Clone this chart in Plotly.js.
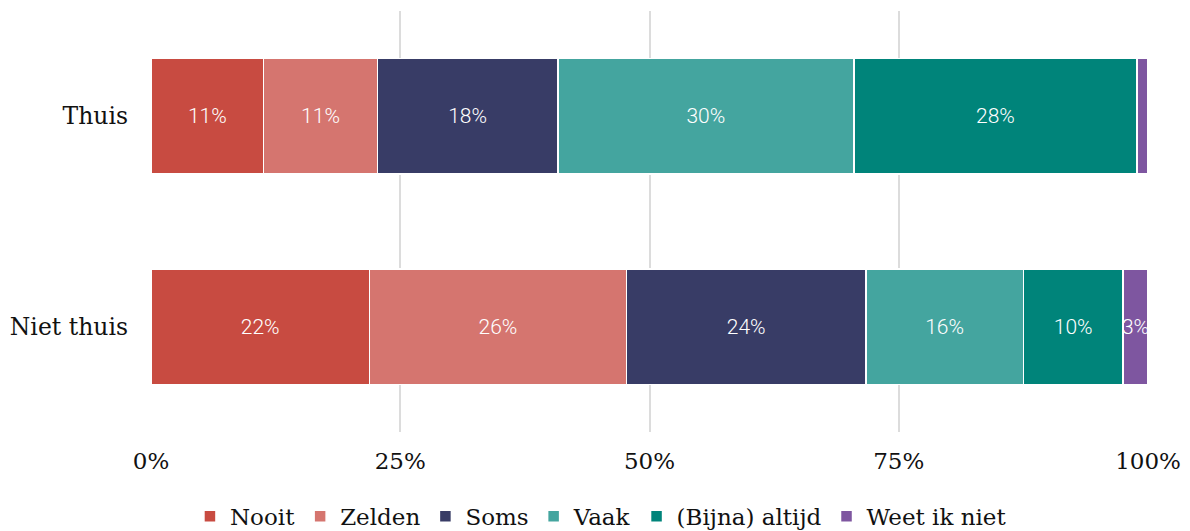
<!DOCTYPE html>
<html><head><meta charset="utf-8">
<script src="https://cdn.plot.ly/plotly-3.0.1.min.js"></script>
<style>html,body{margin:0;padding:0;background:#fff}#chart{width:1190px;height:531px}</style>
</head><body><div id="chart"></div>
<script>
const categories = ["Thuis", "Niet thuis"];
const seriesNames = ["Nooit", "Zelden", "Soms", "Vaak", "(Bijna) altijd", "Weet ik niet"];
const nooit = [11.3, 21.9];
const zelden = [11.4, 25.8];
const soms = [18.1, 24.0];
const vaak = [29.7, 15.8];
const altijd = [28.4, 10.0];
const weetIkNiet = [1.1, 2.5];
const tickVals = [0, 25, 50, 75, 100];
const tickLabels = ["0%", "25%", "50%", "75%", "100%"];
const colors = ["#c84b41", "#d5756f", "#383c66", "#44a59f", "#00847a", "#7e56a0"];

const series = [nooit, zelden, soms, vaak, altijd, weetIkNiet];
const traces = series.map((vals, i) => ({
  type: "bar",
  orientation: "h",
  name: seriesNames[i],
  y: categories,
  x: vals,
  text: vals.map(v => v >= 2 ? Math.round(v) + "%" : ""),
  textposition: "inside",
  insidetextanchor: "middle",
  constraintext: "none",
  textangle: 0,
  textfont: {family: "Roboto", size: 21, color: "#ffffff", weight: 300},
  hoverinfo: "none",
  marker: {color: colors[i], line: {color: "#ffffff", width: 1.5}}
}));

const layout = {
  width: 1190, height: 531,
  margin: {l: 151, r: 42, t: 11, b: 99, autoexpand: false},
  barmode: "stack",
  bargap: 0.45,
  paper_bgcolor: "#fff", plot_bgcolor: "#fff",
  showlegend: true,
  legend: {orientation: "h", xref: "container", x: 0.505, xanchor: "center", y: -0.2, yanchor: "middle",
    font: {family: "DejaVu Serif", size: 23, color: "#111"}, itemwidth: 30, traceorder: "normal"},
  xaxis: {range: [0, 100], tickvals: tickVals, ticktext: tickLabels,
    showgrid: true, gridcolor: "#dcdcdc", gridwidth: 2, zeroline: false,
    showline: false, ticks: "", ticklabelstandoff: 13,
    tickfont: {family: "DejaVu Serif", size: 23, color: "#111"}},
  yaxis: {autorange: "reversed", showgrid: false, zeroline: false, ticks: "",
    ticklabelstandoff: 22,
    tickfont: {family: "DejaVu Serif", size: 23.5, color: "#111"}},
  font: {family: "DejaVu Serif"}
};
Plotly.newPlot("chart", traces, layout, {displayModeBar: false, staticPlot: true});
</script></body></html>
